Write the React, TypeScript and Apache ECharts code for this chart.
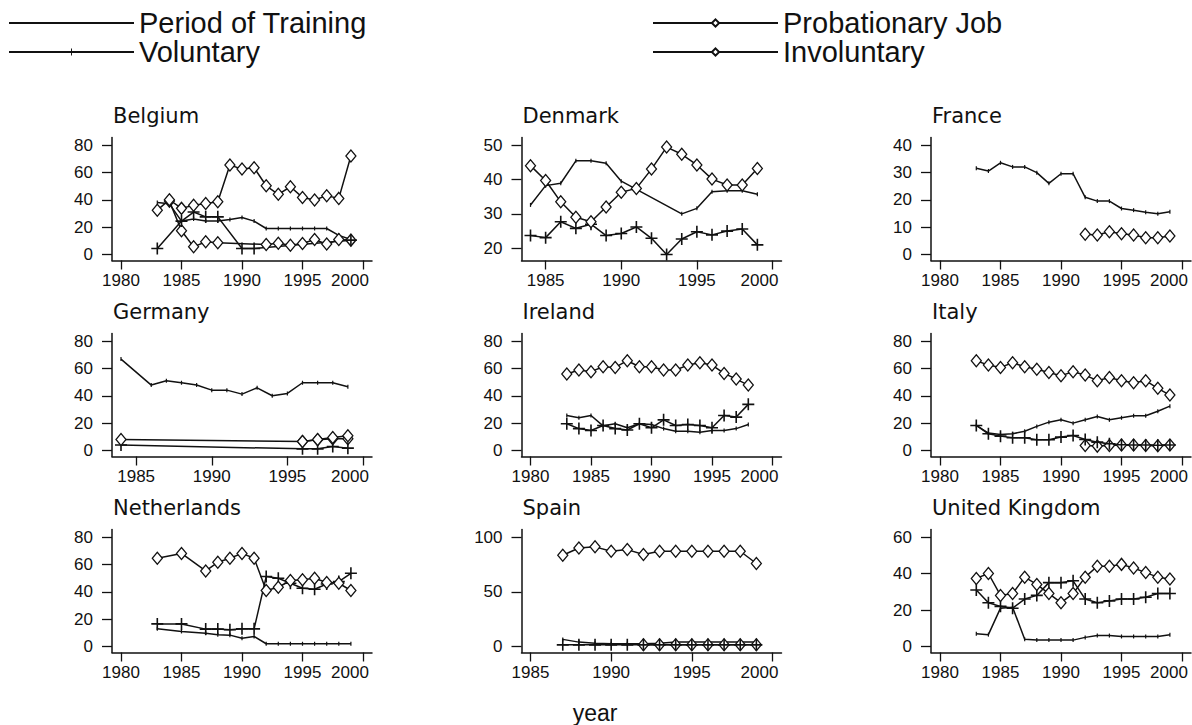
import React, { useEffect, useRef } from "react";
import * as echarts from "echarts";

type Pt = [number, number];

const SERIES_TRAINING = "Period of Training";
const SERIES_PROBATION = "Probationary Job";
const SERIES_VOLUNTARY = "Voluntary";
const SERIES_INVOLUNTARY = "Involuntary";

const yearTicksFrom1980 = [1980, 1985, 1990, 1995, 2000];
const yearTicksFrom1985 = [1985, 1990, 1995, 2000];
const ticks0to80 = [0, 20, 40, 60, 80];
const ticks20to50 = [20, 30, 40, 50];
const ticks0to40 = [0, 10, 20, 30, 40];
const ticks0to100 = [0, 50, 100];
const ticks0to60 = [0, 20, 40, 60];

// Belgium
const belgiumTraining: Pt[] = [[1983, 38], [1984, 37], [1985, 24.4], [1986, 26], [1987, 24.4], [1988, 24.4], [1989, 25.6], [1990, 27], [1991, 24.4], [1992, 19], [1993, 19], [1994, 19], [1995, 19], [1996, 19], [1997, 19], [1998, 14], [1999, 11]];
const belgiumProbation: Pt[] = [[1984, 39], [1985, 17.3], [1986, 5.6], [1987, 9.3], [1988, 8.5], [1992, 7.3], [1993, 8.3], [1994, 6.8], [1995, 8], [1996, 11], [1997, 7.6], [1998, 11], [1999, 10.5]];
const belgiumVoluntary: Pt[] = [[1983, 4.4], [1985, 24.4], [1986, 31], [1987, 27.5], [1988, 27.5], [1990, 4.4], [1991, 4.4], [1999, 10.5]];
const belgiumInvoluntary: Pt[] = [[1983, 32.4], [1984, 40], [1985, 33.7], [1986, 36], [1987, 37.3], [1988, 38.5], [1989, 65.4], [1990, 62.4], [1991, 63.4], [1992, 50.2], [1993, 44], [1994, 49.5], [1995, 41.7], [1996, 39.8], [1997, 43], [1998, 41], [1999, 72]];

// Denmark
const denmarkTraining: Pt[] = [[1984, 32.6], [1985, 38.2], [1986, 38.9], [1987, 45.4], [1988, 45.4], [1989, 44.7], [1990, 39.5], [1994, 30], [1995, 31.6], [1996, 36.4], [1997, 36.7], [1998, 36.7], [1999, 35.7]];
const denmarkProbation: Pt[] = [];
const denmarkVoluntary: Pt[] = [[1984, 23.7], [1985, 23.1], [1986, 27.7], [1987, 25.8], [1988, 27], [1989, 23.7], [1990, 24.3], [1991, 26.2], [1992, 22.9], [1993, 18.2], [1994, 22.7], [1995, 24.8], [1996, 23.9], [1997, 25], [1998, 25.6], [1999, 21]];
const denmarkInvoluntary: Pt[] = [[1984, 44], [1985, 39.7], [1986, 33.5], [1987, 29], [1988, 27.7], [1989, 32], [1990, 36.3], [1991, 37.4], [1992, 43], [1993, 49.4], [1994, 47.3], [1995, 44.2], [1996, 40.1], [1997, 38.4], [1998, 38.4], [1999, 43.2]];

// France
const franceTraining: Pt[] = [[1983, 31.5], [1984, 30.5], [1985, 33.5], [1986, 32], [1987, 32], [1988, 29.9], [1989, 26], [1990, 29.5], [1991, 29.5], [1992, 20.9], [1993, 19.5], [1994, 19.5], [1995, 16.8], [1996, 16.2], [1997, 15.4], [1998, 14.9], [1999, 15.6]];
const franceProbation: Pt[] = [];
const franceVoluntary: Pt[] = [];
const franceInvoluntary: Pt[] = [[1992, 7.4], [1993, 7.1], [1994, 8.3], [1995, 7.6], [1996, 7.1], [1997, 6.1], [1998, 6.1], [1999, 6.8]];

// Germany
const germanyTraining: Pt[] = [[1984, 66.8], [1986, 47.8], [1987, 51], [1988, 49.5], [1989, 47.8], [1990, 44.1], [1991, 44.1], [1992, 41.2], [1993, 45.8], [1994, 40], [1995, 41.7], [1996, 49.5], [1997, 49.5], [1998, 49.5], [1999, 46.6]];
const germanyProbation: Pt[] = [[1996, 6.6], [1997, 7.8], [1998, 8.5], [1999, 8.5]];
const germanyVoluntary: Pt[] = [[1984, 4], [1996, 1.2], [1997, 1.2], [1998, 2.9], [1999, 1.7]];
const germanyInvoluntary: Pt[] = [[1984, 8], [1996, 6.6], [1997, 8], [1998, 9.5], [1999, 10.8]];

// Ireland
const irelandTraining: Pt[] = [[1983, 25.6], [1984, 24], [1985, 25.6], [1986, 18], [1987, 19.5], [1988, 16.6], [1989, 19.5], [1990, 19], [1991, 16], [1992, 14.1], [1993, 14.1], [1994, 13.4], [1995, 14.6], [1996, 14.6], [1997, 16], [1998, 19]];
const irelandProbation: Pt[] = [];
const irelandVoluntary: Pt[] = [[1983, 19.5], [1984, 16], [1985, 14.6], [1986, 18.3], [1987, 16], [1988, 15], [1989, 19.5], [1990, 16.6], [1991, 22.4], [1992, 18.3], [1993, 19], [1994, 18.3], [1995, 16.6], [1996, 25.6], [1997, 24.4], [1998, 33.7]];
const irelandInvoluntary: Pt[] = [[1983, 55.9], [1984, 58.8], [1985, 57.6], [1986, 61.2], [1987, 60.7], [1988, 65.6], [1989, 61.2], [1990, 61.2], [1991, 58.8], [1992, 58.8], [1993, 62.4], [1994, 64.1], [1995, 62.4], [1996, 56.3], [1997, 52.2], [1998, 47.8]];

// Italy
const italyTraining: Pt[] = [[1983, 18.3], [1984, 12.7], [1985, 11.7], [1986, 12.2], [1987, 14.1], [1988, 17.6], [1989, 20.7], [1990, 22.4], [1991, 20], [1992, 22.4], [1993, 24.9], [1994, 22.4], [1995, 23.9], [1996, 25.4], [1997, 25.4], [1998, 28.7], [1999, 32.4]];
const italyProbation: Pt[] = [[1992, 3.7], [1993, 3.2], [1994, 3.7], [1995, 4], [1996, 4], [1997, 3.7], [1998, 3.5], [1999, 4]];
const italyVoluntary: Pt[] = [[1983, 18.3], [1984, 12.2], [1985, 10.5], [1986, 9.3], [1987, 9.3], [1988, 7.8], [1989, 7.8], [1990, 9.8], [1991, 11], [1992, 8], [1993, 6.1], [1994, 4.9], [1995, 4.2], [1996, 4], [1997, 4], [1998, 3.8], [1999, 4]];
const italyInvoluntary: Pt[] = [[1983, 65.6], [1984, 62.4], [1985, 60.7], [1986, 64.1], [1987, 61.2], [1988, 59.3], [1989, 57], [1990, 54.6], [1991, 57.6], [1992, 55.1], [1993, 51], [1994, 53.4], [1995, 51], [1996, 49.5], [1997, 51], [1998, 45.4], [1999, 40.5]];

// Netherlands
const netherlandsTraining: Pt[] = [[1983, 12.9], [1985, 11], [1987, 9.7], [1988, 8.5], [1989, 8.3], [1990, 6.1], [1991, 7.3], [1992, 2], [1993, 2], [1994, 2], [1995, 2], [1996, 2], [1997, 2], [1998, 2], [1999, 2]];
const netherlandsProbation: Pt[] = [];
const netherlandsVoluntary: Pt[] = [[1983, 16.5], [1985, 16.5], [1987, 12.7], [1988, 12.7], [1989, 12.2], [1990, 12.9], [1991, 12.9], [1992, 51.1], [1993, 49.9], [1994, 46.2], [1995, 42.6], [1996, 41.8], [1997, 45.7], [1998, 47.4], [1999, 53.5]];
const netherlandsInvoluntary: Pt[] = [[1983, 64.5], [1985, 68], [1987, 55.2], [1988, 61.5], [1989, 64.5], [1990, 68], [1991, 64.5], [1992, 40.9], [1993, 43.3], [1994, 48.2], [1995, 48.7], [1996, 49.9], [1997, 46.7], [1998, 46.2], [1999, 40.9]];

// Spain
const spainTraining: Pt[] = [[1987, 6.5], [1988, 4], [1989, 3], [1990, 2.5], [1991, 2.5], [1992, 2.5], [1993, 3], [1994, 4], [1995, 4], [1996, 4], [1997, 4], [1998, 4], [1999, 4]];
const spainProbation: Pt[] = [[1992, 1.5], [1993, 1.5], [1994, 1.5], [1995, 1.5], [1996, 1.5], [1997, 1.5], [1998, 1.5], [1999, 1.5]];
const spainVoluntary: Pt[] = [[1987, 1.5], [1988, 1.5], [1989, 1.5], [1990, 1.5], [1991, 1.5], [1992, 1.5], [1993, 1.5], [1994, 1.5], [1995, 1.5], [1996, 1.5], [1997, 1.5], [1998, 1.5], [1999, 1.5]];
const spainInvoluntary: Pt[] = [[1987, 83.3], [1988, 90], [1989, 91], [1990, 87], [1991, 88.5], [1992, 84], [1993, 87], [1994, 87], [1995, 87], [1996, 87], [1997, 87], [1998, 87], [1999, 75.8]];

// United Kingdom
const ukTraining: Pt[] = [[1983, 7], [1984, 6.5], [1985, 21], [1986, 21.5], [1987, 4], [1988, 3.5], [1989, 3.5], [1990, 3.5], [1991, 3.5], [1992, 5], [1993, 6], [1994, 6], [1995, 5.5], [1996, 5.5], [1997, 5.5], [1998, 5.5], [1999, 6.5]];
const ukProbation: Pt[] = [];
const ukVoluntary: Pt[] = [[1983, 31], [1984, 24], [1985, 22], [1986, 21], [1987, 26], [1988, 28], [1989, 35], [1990, 35], [1991, 36], [1992, 26], [1993, 24], [1994, 25], [1995, 26], [1996, 26], [1997, 27], [1998, 29], [1999, 29]];
const ukInvoluntary: Pt[] = [[1983, 37.3], [1984, 40], [1985, 28], [1986, 29], [1987, 38], [1988, 34], [1989, 29], [1990, 24], [1991, 29], [1992, 38], [1993, 44], [1994, 44], [1995, 45], [1996, 43], [1997, 40.5], [1998, 38], [1999, 37]];

const panels = [
  { name: "Belgium", training: belgiumTraining, probation: belgiumProbation, voluntary: belgiumVoluntary, involuntary: belgiumInvoluntary, xTicks: yearTicksFrom1980, yTicks: ticks0to80 },
  { name: "Denmark", training: denmarkTraining, probation: denmarkProbation, voluntary: denmarkVoluntary, involuntary: denmarkInvoluntary, xTicks: yearTicksFrom1985, yTicks: ticks20to50 },
  { name: "France", training: franceTraining, probation: franceProbation, voluntary: franceVoluntary, involuntary: franceInvoluntary, xTicks: yearTicksFrom1980, yTicks: ticks0to40 },
  { name: "Germany", training: germanyTraining, probation: germanyProbation, voluntary: germanyVoluntary, involuntary: germanyInvoluntary, xTicks: yearTicksFrom1985, yTicks: ticks0to80 },
  { name: "Ireland", training: irelandTraining, probation: irelandProbation, voluntary: irelandVoluntary, involuntary: irelandInvoluntary, xTicks: yearTicksFrom1980, yTicks: ticks0to80 },
  { name: "Italy", training: italyTraining, probation: italyProbation, voluntary: italyVoluntary, involuntary: italyInvoluntary, xTicks: yearTicksFrom1980, yTicks: ticks0to80 },
  { name: "Netherlands", training: netherlandsTraining, probation: netherlandsProbation, voluntary: netherlandsVoluntary, involuntary: netherlandsInvoluntary, xTicks: yearTicksFrom1980, yTicks: ticks0to80 },
  { name: "Spain", training: spainTraining, probation: spainProbation, voluntary: spainVoluntary, involuntary: spainInvoluntary, xTicks: yearTicksFrom1985, yTicks: ticks0to100 },
  { name: "United Kingdom", training: ukTraining, probation: ukProbation, voluntary: ukVoluntary, involuntary: ukInvoluntary, xTicks: yearTicksFrom1980, yTicks: ticks0to60 },
];

const INK = "#111111";
const TICK_FONT = '"Liberation Sans", Arial, Helvetica, sans-serif';
const TITLE_FONT = '"DejaVu Sans", Verdana, sans-serif';
const PLUS = "path://M5.2,0h1.6v5.2h5.2v1.6h-5.2v5.2h-1.6v-5.2h-5.2v-1.6h5.2z";
const TICKMARK = "path://M0,0h1v5h-1z";

const INNER_W = 242;
const INNER_H = 109.5;
const PAD_X = 9;
const PAD_TOP = 7.5;
const PAD_BOTTOM = 6;

function buildOption() {
  const grid: any[] = [];
  const xAxis: any[] = [];
  const yAxis: any[] = [];
  const series: any[] = [];
  const graphic: any[] = [];

  panels.forEach((p, i) => {
    const r = Math.floor(i / 3);
    const c = i % 3;
    const innerTop = 145 + 196 * r;
    const innerLeft = 121 + 409.5 * c;
    const pts = [...p.training, ...p.probation, ...p.voluntary, ...p.involuntary];
    const xs = pts.map((d) => d[0]).concat(p.xTicks);
    const ys = pts.map((d) => d[1]).concat(p.yTicks);
    const xLo = Math.min(...xs);
    const xHi = Math.max(...xs);
    const yLo = Math.min(...ys);
    const yHi = Math.max(...ys);

    grid.push({
      left: innerLeft - PAD_X,
      top: innerTop - PAD_TOP,
      width: INNER_W + 2 * PAD_X,
      height: INNER_H + PAD_TOP + PAD_BOTTOM,
    });

    const lineSt = { color: INK, width: 1.5 };
    xAxis.push({
      type: "value",
      gridIndex: i,
      min: xLo - (PAD_X / INNER_W) * (xHi - xLo),
      max: xHi + (PAD_X / INNER_W) * (xHi - xLo),
      axisLine: { show: true, onZero: false, lineStyle: lineSt },
      axisTick: { show: true, customValues: p.xTicks, length: 9, lineStyle: { color: INK, width: 1.3 } },
      axisLabel: {
        show: true,
        customValues: p.xTicks,
        margin: 11,
        color: INK,
        fontFamily: TICK_FONT,
        fontSize: 17,
        formatter: (v: number) => (v === 2000 ? "{s|2000}" : String(v)),
        rich: { s: { padding: [0, 26, 0, 0], color: INK, fontFamily: TICK_FONT, fontSize: 17 } },
      },
      splitLine: { show: false },
    });
    yAxis.push({
      type: "value",
      gridIndex: i,
      min: yLo - (PAD_BOTTOM / INNER_H) * (yHi - yLo),
      max: yHi + (PAD_TOP / INNER_H) * (yHi - yLo),
      axisLine: { show: true, onZero: false, lineStyle: lineSt },
      axisTick: { show: true, customValues: p.yTicks, length: 10, lineStyle: { color: INK, width: 1.3 } },
      axisLabel: { show: true, customValues: p.yTicks, margin: 19, color: INK, fontFamily: TICK_FONT, fontSize: 17 },
      splitLine: { show: false },
    });

    const base = { type: "line", xAxisIndex: i, yAxisIndex: i, lineStyle: { color: INK, width: 1.5 }, z: 3 };
    series.push({
      ...base,
      name: SERIES_TRAINING,
      data: p.training,
      symbol: TICKMARK,
      symbolSize: [1.2, 4],
      itemStyle: { color: INK },
    });
    series.push({
      ...base,
      name: SERIES_PROBATION,
      data: p.probation,
      symbol: "diamond",
      symbolSize: [10, 12],
      itemStyle: { color: "#ffffff", borderColor: INK, borderWidth: 1.3 },
    });
    series.push({
      ...base,
      name: SERIES_VOLUNTARY,
      data: p.voluntary,
      symbol: PLUS,
      symbolSize: 12,
      itemStyle: { color: INK },
    });
    series.push({
      ...base,
      name: SERIES_INVOLUNTARY,
      data: p.involuntary,
      symbol: "diamond",
      symbolSize: [10, 12],
      itemStyle: { color: "#ffffff", borderColor: INK, borderWidth: 1.3 },
    });

    graphic.push({
      type: "text",
      x: innerLeft - 8,
      y: innerTop - 29.5,
      style: { text: p.name, font: `21px ${TITLE_FONT}`, fill: INK, align: "left", verticalAlign: "middle" },
    });
  });

  graphic.push({
    type: "text",
    x: 595,
    y: 713,
    style: { text: "year", font: `23px ${TICK_FONT}`, fill: INK, align: "center", verticalAlign: "middle" },
  });

  const legendBase = {
    orient: "vertical",
    top: 8.5,
    padding: 0,
    itemGap: 0,
    itemWidth: 125,
    itemHeight: 9,
    selectedMode: false,
    textStyle: { color: INK, fontFamily: TICK_FONT, fontSize: 29, lineHeight: 29, padding: [0, 0, 0, 0] },
  };
  const legend = [
    {
      ...legendBase,
      left: 8,
      data: [{ name: SERIES_TRAINING, itemStyle: { opacity: 0 } }, { name: SERIES_VOLUNTARY }],
    },
    { ...legendBase, left: 652, data: [SERIES_PROBATION, SERIES_INVOLUNTARY] },
  ];

  return {
    animation: false,
    backgroundColor: "#ffffff",
    grid,
    xAxis,
    yAxis,
    series,
    legend,
    graphic,
  };
}

export default function App() {
  const ref = useRef<HTMLDivElement>(null);
  useEffect(() => {
    if (!ref.current) return;
    const chart = echarts.init(ref.current, undefined, { renderer: "svg" });
    chart.setOption(buildOption() as any);
    return () => chart.dispose();
  }, []);
  return (
    <div
      ref={ref}
      style={{ position: "absolute", left: 0, top: 0, width: 1192, height: 725, background: "#fff" }}
    />
  );
}
